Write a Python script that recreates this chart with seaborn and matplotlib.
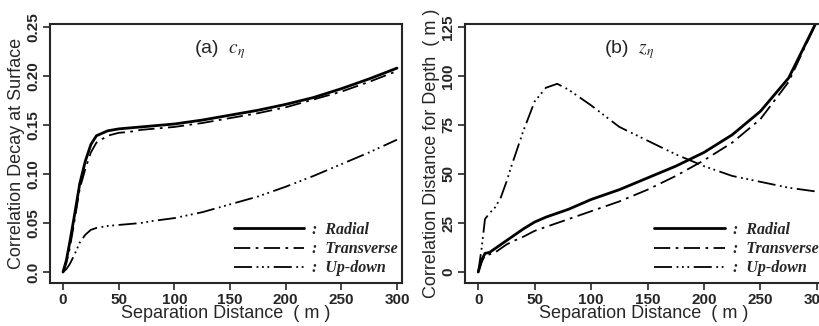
import numpy as np
import pandas as pd
import seaborn as sns
import matplotlib.pyplot as plt

# ---------- data ----------
dist = [0, 3, 6, 10, 15, 20, 25, 30, 40, 50, 60, 70, 80, 100,
        125, 150, 175, 200, 225, 250, 275, 300]

c_radial     = [0, 0.012, 0.030, 0.056, 0.090, 0.113, 0.130, 0.139, 0.144, 0.146, 0.147,
                0.148, 0.149, 0.151, 0.155, 0.160, 0.165, 0.171, 0.178, 0.187, 0.197, 0.208]
c_transverse = [0, 0.009, 0.024, 0.050, 0.085, 0.105, 0.122, 0.132, 0.139, 0.142, 0.143,
                0.145, 0.146, 0.148, 0.152, 0.157, 0.162, 0.168, 0.176, 0.184, 0.194, 0.205]
c_updown     = [0, 0.003, 0.008, 0.017, 0.030, 0.038, 0.043, 0.045, 0.047, 0.048, 0.049,
                0.050, 0.052, 0.055, 0.061, 0.069, 0.077, 0.087, 0.098, 0.110, 0.122, 0.135]

z_radial     = [0, 6, 9.5, 10, 12, 14, 16, 18, 22, 25.5, 28, 30, 32, 37,
                42, 48, 54, 61, 70, 82, 99, 128]
z_transverse = [0, 5, 8.5, 9, 10, 12, 14, 15.5, 18, 21, 23, 25, 27, 31,
                36, 42, 49, 57, 66, 78, 97, 128]
z_updown     = [0, 12, 27, 30, 33, 38, 46, 55, 72, 87, 94, 96, 93, 85,
                74, 67, 60, 54, 49, 46, 43, 41]

components = ["Radial", "Transverse", "Up-down"]
styles = {
    "Radial":     dict(linestyle="-", lw=2.0),
    "Transverse": dict(linestyle=(0, (9, 3, 1.5, 3)), lw=1.3),
    "Up-down":    dict(linestyle=(0, (10, 2.5, 1, 2, 1, 2, 1, 2.5)), lw=1.3),
}

panels = [
    dict(series=[c_radial, c_transverse, c_updown],
         ylim=(-0.0112, 0.253), yticks=[0.0, 0.05, 0.10, 0.15, 0.20, 0.25],
         yticklabels=["0.0", "0.05", "0.10", "0.15", "0.20", "0.25"],
         ylabel="Correlation Decay at Surface",
         title=r"(a)  $c_\eta$", title_x=0.483,
         rect=[50/819, 43/326, 352/819, 259/326]),
    dict(series=[z_radial, z_transverse, z_updown],
         ylim=(-5.6, 126.5), yticks=[0, 25, 50, 75, 100, 125],
         yticklabels=["0", "25", "50", "75", "100", "125"],
         ylabel="Correlation Distance for Depth  ( m )",
         title=r"(b)  $z_\eta$", title_x=0.46,
         rect=[465/819, 43/326, 357/819, 259/326]),
]

# ---------- style ----------
sns.set_style("ticks")
plt.rcParams["font.family"] = ["Liberation Sans", "DejaVu Sans"]
plt.rcParams["mathtext.fontset"] = "stix"

fig = plt.figure(figsize=(8.19, 3.26), dpi=100)

for p in panels:
    ax = fig.add_axes(p["rect"])
    df = pd.DataFrame({"dist": dist * 3,
                       "value": sum(p["series"], []),
                       "comp": np.repeat(components, len(dist))})
    for comp in components:
        sub = df[df["comp"] == comp]
        sns.lineplot(data=sub, x="dist", y="value", ax=ax, color="k",
                     label=":  " + comp, **styles[comp])

    ax.set_xlim(-11.7, 304.5)
    ax.set_ylim(*p["ylim"])
    ax.set_xticks([0, 50, 100, 150, 200, 250, 300])
    ax.set_xticklabels(["0", "50", "100", "150", "200", "250", "300"],
                       fontsize=11, fontweight="bold")
    ax.set_yticks(p["yticks"])
    ax.set_yticklabels(p["yticklabels"], rotation=90, va="center",
                       fontsize=11, fontweight="bold")
    ax.tick_params(direction="out", length=5, width=1.2, pad=2)
    for s in ax.spines.values():
        s.set_linewidth(1.5)
    ax.set_xlabel("Separation Distance  ( m )", fontsize=13, labelpad=-1)
    ax.set_ylabel(p["ylabel"], fontsize=13, labelpad=1)
    ax.text(p["title_x"], 0.90, p["title"], transform=ax.transAxes,
            ha="center", va="center", fontsize=14)

    ax.legend(loc="lower right", bbox_to_anchor=(1.03, -0.03),
              frameon=False, handlelength=4.4,
              handletextpad=0.5, labelspacing=0.2,
              prop=dict(family="Liberation Serif", style="italic",
                        weight="bold", size=11.5))

fig.savefig("out.png", dpi=100)
